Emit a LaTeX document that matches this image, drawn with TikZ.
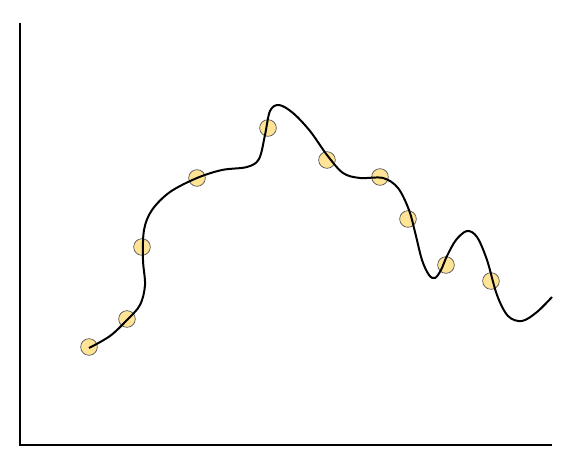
\documentclass[tikz,border=0pt]{standalone}
\usepackage{tikz}
\usetikzlibrary{positioning}
\definecolor{sampleyellow}{RGB}{255,228,150}
\definecolor{samplerim}{RGB}{85,85,85}

\begin{document}
\begin{tikzpicture}[
        x=0.03cm, y=-0.03cm,
        axis/.style={draw=black, line width=2.4pt, line cap=butt},
        fitcurve/.style={draw=black, line width=1.7pt, smooth, tension=0.55},
        sample/.style={circle, draw=samplerim, fill=sampleyellow, line width=0.6pt, minimum size=0.5cm, inner sep=0pt}
    ]
        \useasboundingbox (0,0) rectangle (577,460);

        % axes
        \coordinate (ytop) at (20,23);
        \coordinate (origin) at (20,445);
        \coordinate (xend) at (552,445);
        \draw[axis] (ytop) -- (origin) -- (xend);

        % data points
        \node[sample] (s1) at (89,347) {};
        \node[sample] (s2) at (127,319) {};
        \node[sample] (s3) at (142,247) {};
        \node[sample] (s4) at (197,178) {};
        \node[sample] (s5) at (268,128) {};
        \node[sample] (s6) at (327,160) {};
        \node[sample] (s7) at (380,177) {};
        \node[sample] (s8) at (408,219) {};
        \node[sample] (s9) at (446,265) {};
        \node[sample] (s10) at (491,281) {};

        % overfitted curve
        \draw[fitcurve] plot coordinates {
            (89,348) (110,336) (127,320) (140,305) (145,285) (143,260)
            (144,230) (152,210) (170,192) (197,178) (222,170) (247,167)
            (259,159) (265,135) (270,111) (279,105) (293,113) (310,131)
            (327,155) (343,173) (360,178) (383,178) (398,188) (409,210)
            (415,232) (422,260) (429,275) (435,278) (441,270) (447,256)
            (456,240) (467,231) (477,237) (487,260) (497,295) (508,316)
            (522,321) (537,312) (552,297)};
    \end{tikzpicture}
\end{document}
